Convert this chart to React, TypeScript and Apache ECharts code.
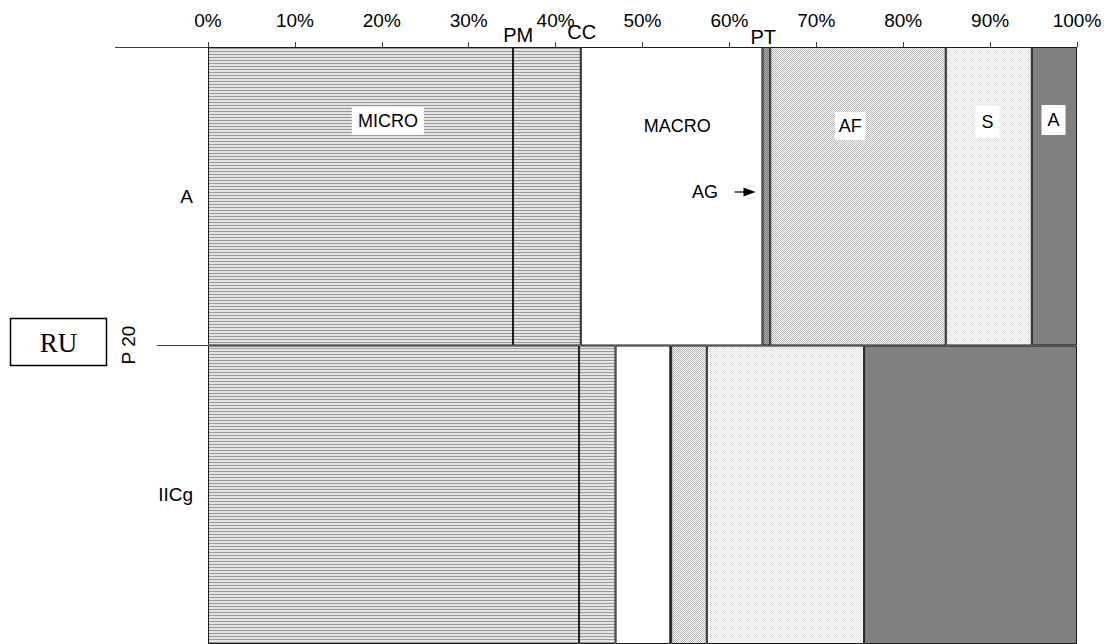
import React, { useEffect, useRef } from 'react';
import * as echarts from 'echarts';

// ---- data ----
const categories = ['A', 'IICg'];
const seriesNames = ['PM', 'CC', 'MACRO', 'PT', 'AF', 'S', 'A'];
const pmValues = [35.1, 42.7];
const ccValues = [7.8, 4.2];
const macroValues = [20.9, 6.3];
const ptValues = [0.9, 0.1];
const afValues = [20.2, 4.1];
const sValues = [9.9, 18.1];
const aValues = [5.2, 24.5];
const seriesValues = [pmValues, ccValues, macroValues, ptValues, afValues, sValues, aValues];

// annotation texts and x positions (axis %)
const topLabels = ['PM', 'CC', 'PT'];
const topLabelX = [35.7, 43.0, 63.9];
const innerLabels = ['MICRO', 'MACRO', 'AF', 'S', 'A'];
const innerLabelX = [20.7, 54.0, 73.9, 89.7, 97.3];
const agLabel = 'AG';
const agLabelX = 57.2;
const agArrowX = [60.6, 63.0];

const FONT = '"Liberation Sans", Arial, sans-serif';

type Pix = string[][];
function makePattern(rows: Pix) {
  const h = rows.length;
  const w = rows[0].length;
  const c = document.createElement('canvas');
  c.width = w;
  c.height = h;
  const ctx = c.getContext('2d')!;
  rows.forEach((row, y) =>
    row.forEach((col, x) => {
      ctx.fillStyle = col;
      ctx.fillRect(x, y, 1, 1);
    })
  );
  return { image: c.toDataURL(), repeat: 'repeat', imageWidth: w, imageHeight: h } as any;
}

export default function App() {
  const ref = useRef<HTMLDivElement>(null);

  useEffect(() => {
    if (!ref.current) return;
    const chart = echarts.init(ref.current, null, { renderer: 'svg' });

    const W = '#ffffff';
    const lines = makePattern([
      ['#999999', '#999999'],
      ['#e4e4e4', '#e4e4e4'],
      ['#e4e4e4', '#e4e4e4'],
    ]);
    const dark = makePattern([
      ['#6e6e6e', '#b8b8b8'],
      ['#b8b8b8', '#6e6e6e'],
    ]);
    const medium = makePattern([
      ['#b4b4b4', W],
      [W, '#b4b4b4'],
    ]);
    const light = makePattern([
      ['#e0e0e0', W],
      [W, '#e0e0e0'],
    ]);
    const fills: any[] = [lines, lines, '#ffffff', dark, medium, light, '#808080'];

    chart.setOption({
      animation: false,
      textStyle: { fontFamily: FONT },
      grid: { left: 208, top: 47, width: 869, height: 600 },
      xAxis: {
        type: 'value',
        position: 'top',
        min: 0,
        max: 100,
        interval: 10,
        axisLine: { show: true, lineStyle: { color: '#404040', width: 1 } },
        axisTick: { show: true, length: 5, lineStyle: { color: '#404040' } },
        splitLine: { show: false },
        axisLabel: { formatter: '{value}%', fontSize: 19, color: '#000', margin: 17, fontFamily: FONT },
      },
      yAxis: {
        type: 'category',
        inverse: true,
        data: categories,
        axisLine: { show: false },
        axisTick: { show: true, length: 51, lineStyle: { color: '#404040' } },
        axisLabel: { fontSize: 19, color: '#000', margin: 15, fontFamily: FONT },
      },
      series: seriesNames.map((name, i) => ({
        name,
        type: 'bar',
        stack: 'total',
        barWidth: '100%',
        barCategoryGap: 0,
        data: seriesValues[i],
        itemStyle: { color: fills[i], borderColor: '#1a1a1a', borderWidth: 1 },
        emphasis: { disabled: true },
      })),
    });

    const px = (v: number) => chart.convertToPixel({ xAxisIndex: 0 }, v) as number;
    const topY = [34.5, 31.5, 37];
    const innerY = [121, 126, 126, 122, 120];
    const innerPad = [
      [5, 6],
      [0, 0],
      [5, 4],
      [7, 6],
      [6, 6],
    ];
    const innerBg = ['#fff', 'transparent', '#fff', '#fff', '#fff'];

    const graphic: any[] = [];
    graphic.push({
      type: 'line',
      shape: { x1: 115, y1: 47.5, x2: 208, y2: 47.5 },
      style: { stroke: '#404040', lineWidth: 1 },
    });
    topLabels.forEach((t, i) => {
      graphic.push({
        type: 'text',
        x: px(topLabelX[i]),
        y: topY[i],
        style: { text: t, font: `20px ${FONT}`, fill: '#000', align: 'center', verticalAlign: 'middle' },
      });
    });
    innerLabels.forEach((t, i) => {
      graphic.push({
        type: 'text',
        x: px(innerLabelX[i]),
        y: innerY[i],
        z: 10,
        style: {
          text: t,
          font: `18px ${FONT}`,
          fill: '#000',
          align: 'center',
          verticalAlign: 'middle',
          backgroundColor: innerBg[i],
          padding: innerPad[i],
        },
      });
    });
    graphic.push({
      type: 'text',
      x: px(agLabelX),
      y: 192,
      z: 10,
      style: { text: agLabel, font: `18px ${FONT}`, fill: '#000', align: 'center', verticalAlign: 'middle' },
    });
    const ax1 = px(agArrowX[0]);
    const ax2 = px(agArrowX[1]);
    graphic.push({
      type: 'line',
      z: 10,
      shape: { x1: ax1, y1: 192, x2: ax2 - 8, y2: 192 },
      style: { stroke: '#000', lineWidth: 1.2 },
    });
    graphic.push({
      type: 'polygon',
      z: 10,
      shape: { points: [[ax2 - 12, 187.5], [ax2, 192], [ax2 - 12, 196.5]] },
      style: { fill: '#000' },
    });
    graphic.push({
      type: 'rect',
      shape: { x: 10.5, y: 318.5, width: 96, height: 47 },
      style: { fill: '#fff', stroke: '#000', lineWidth: 1.5 },
    });
    graphic.push({
      type: 'text',
      x: 58.5,
      y: 343,
      style: { text: 'RU', font: '27px "Liberation Serif", "Times New Roman", serif', fill: '#000', align: 'center', verticalAlign: 'middle' },
    });
    graphic.push({
      type: 'text',
      x: 128.5,
      y: 345,
      rotation: Math.PI / 2,
      style: { text: 'P 20', font: `19px ${FONT}`, fill: '#000', align: 'center', verticalAlign: 'middle' },
    });
    chart.setOption({ graphic });

    return () => chart.dispose();
  }, []);

  return (
    <div
      ref={ref}
      style={{ position: 'fixed', left: 0, top: 0, width: 1109, height: 644, background: '#fff' }}
    />
  );
}
